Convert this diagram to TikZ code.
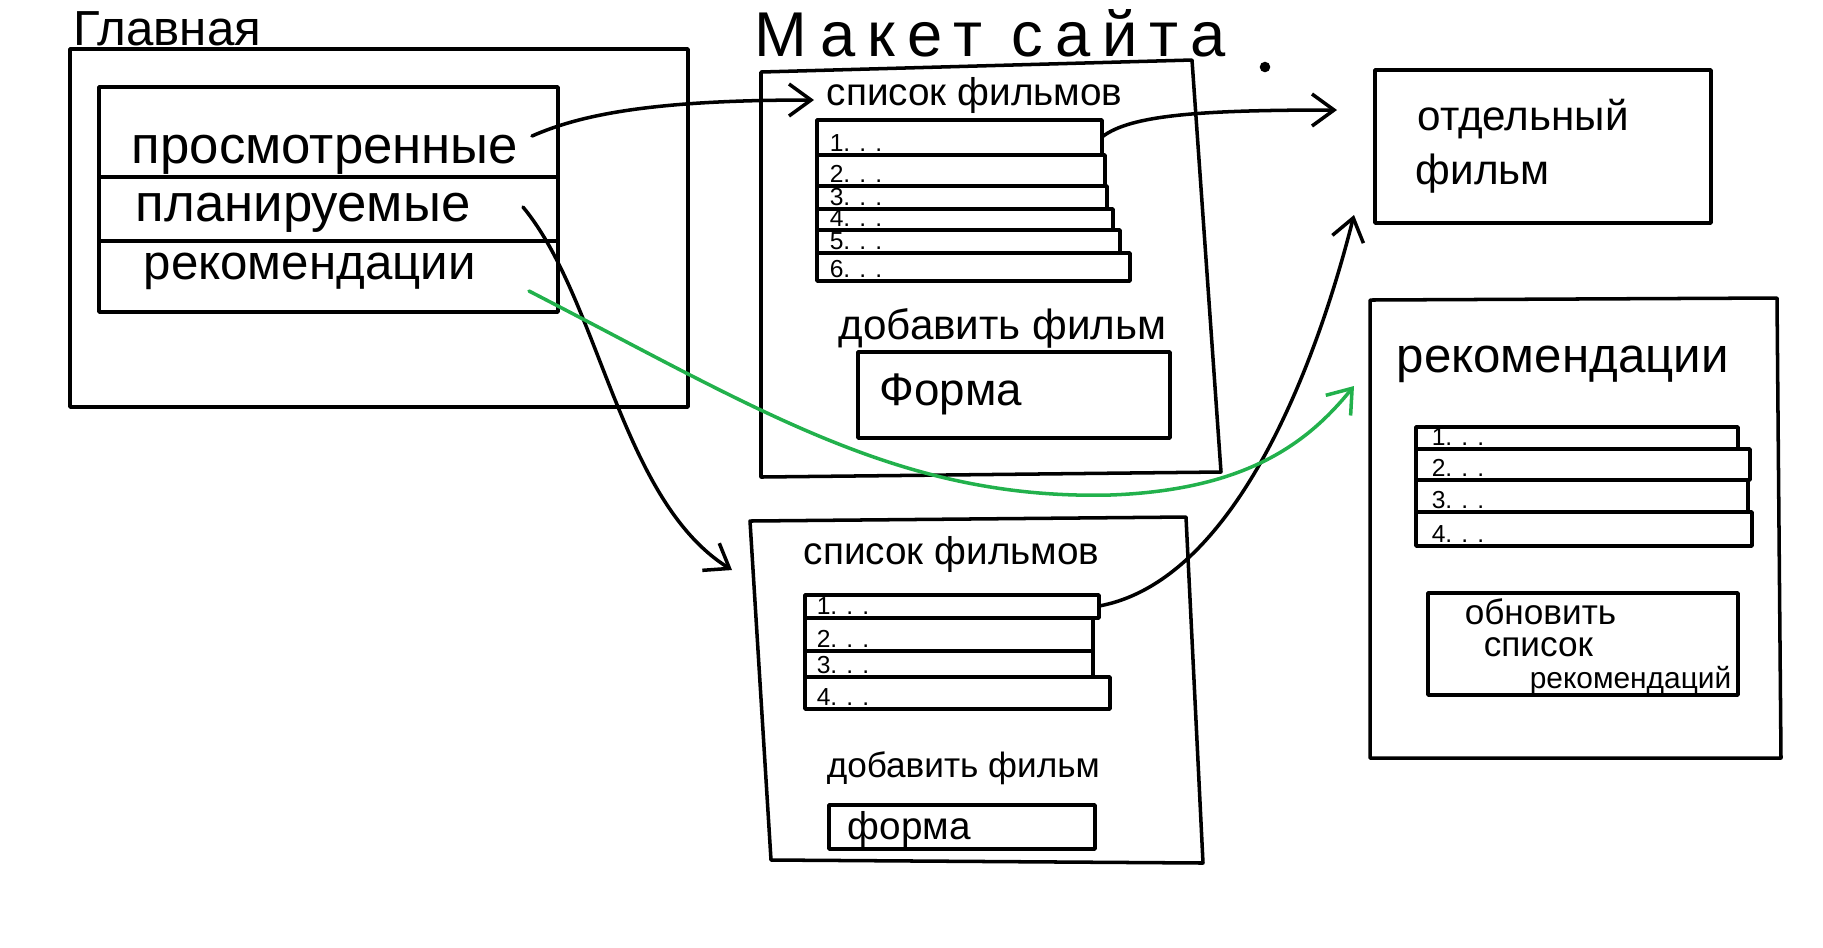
\documentclass[tikz,border=0pt]{standalone}
\usepackage{fontspec}
\setmainfont{Liberation Sans}
\usetikzlibrary{arrows.meta, positioning, calc}
\definecolor{paintgreen}{RGB}{34,177,76}
\tikzset{
  sketch/.style={line width=1pt, line cap=round, line join=round},
  link/.style={sketch, -{Straight Barb[length=2.2mm, width=3.2mm]}},
  lbl/.style={anchor=base west, inner sep=0pt},
  rowtxt/.style={anchor=base west, inner sep=0pt, font=\fontsize{7}{8}\selectfont},
}
\newcommand{\fs}[1]{\fontsize{#1}{#1}\selectfont}

\begin{document}
\begin{tikzpicture}[x=0.01cm, y=-0.01cm, sketch]
  \useasboundingbox (0,0) rectangle (1823,947);

  % Главная
  \node[lbl, font=\fs{14}] (mainT) at (72,45) {Главная};
  \draw (70,49) rectangle (688,407);
  \draw (99,87) rectangle (558,312);
  \draw (99,177) -- (558,177);
  \draw (99,241) -- (558,241);
  \node[lbl, font=\fs{15}] (seen) at (130,163) {просмотренные};
  \node[lbl, font=\fs{15}] (planned) at (134,221) {планируемые};
  \node[lbl, font=\fs{14}] (recs) at (142,279) {рекомендации};
  \coordinate (seenOut) at (532,136);
  \coordinate (plannedOut) at (523,207);
  \coordinate (recsOut) at (529,291);

  % Макет сайта
  \node[lbl, font=\fs{18}\addfontfeatures{LetterSpace=19}] (title) at (753,56) {Макет сайта};
  \fill (1265,67) circle (1.5pt);

  % список фильмов (просмотренные)
  \draw (761,72) -- (1192,60) -- (1221,472) -- (761,477) -- cycle;
  \node[lbl, font=\fs{11}] (filmsA) at (825,105) {список фильмов};
  \foreach \n/\ya/\yb/\xr in {1/120/155/1102, 2/155/186/1105, 3/186/209/1107,
                              4/209/230/1113, 5/230/253/1120, 6/253/281/1130} {
    \draw (817,\ya) rectangle (\xr,\yb);
    \node[rowtxt] (rowA\n) at (828,\yb-4) {\n. . .};
  }
  \node[lbl, font=\fs{12}] (addA) at (837,339) {добавить фильм};
  \draw (858,352) rectangle (1170,438);
  \node[lbl, font=\fs{13}] (formA) at (878,405) {Форма};
  \coordinate (filmsIn) at (814,100);
  \coordinate (rowAOut) at (1102,137);

  % список фильмов (планируемые)
  \draw (750,521) -- (1186,517) -- (1203,863) -- (771,860) -- cycle;
  \node[lbl, font=\fs{11}] (filmsB) at (802,564) {список фильмов};
  \foreach \n/\ya/\yb/\xr in {1/595/618/1099, 2/618/651/1093, 3/651/677/1093, 4/677/709/1110} {
    \draw (805,\ya) rectangle (\xr,\yb);
    \node[rowtxt] (rowB\n) at (815,\yb-4) {\n. . .};
  }
  \node[lbl, font=\fs{10}] (addB) at (825,777) {добавить фильм};
  \draw (829,805) rectangle (1095,849);
  \node[lbl, font=\fs{11}] (formB) at (846,839) {форма};
  \coordinate (pageBIn) at (732,570);
  \coordinate (rowBOut) at (1099,606);

  % отдельный фильм
  \draw (1375,70) rectangle (1711,223);
  \node[lbl, font=\fs{12}] (singleA) at (1416,130) {отдельный};
  \node[lbl, font=\fs{12}] (singleB) at (1414,184) {фильм};
  \coordinate (singleIn) at (1337,110);
  \coordinate (singleInLow) at (1354,215);

  % рекомендации
  \draw (1370,300) -- (1777,298) -- (1781,758) -- (1370,758) -- cycle;
  \node[lbl, font=\fs{14}] (recsT) at (1395,372) {рекомендации};
  \foreach \n/\ya/\yb/\xr in {1/427/449/1738, 2/449/480/1750, 3/480/512/1748, 4/512/546/1752} {
    \draw (1416,\ya) rectangle (\xr,\yb);
    \node[rowtxt] (rowC\n) at (1430,\yb-4) {\n. . .};
  }
  \draw (1428,593) rectangle (1738,695);
  \node[lbl, font=\fs{10}] (upd1) at (1463,624) {обновить};
  \node[lbl, font=\fs{10}] (upd2) at (1482,656) {список};
  \node[lbl, font=\fs{8.5}] (upd3) at (1528,688) {рекомендаций};
  \coordinate (recBoxIn) at (1354,386);

  % переходы
  \draw[link] (seenOut) .. controls (580,115) and (650,100) .. (filmsIn);
  \draw[link] (plannedOut) .. controls (600,300) and (620,500) .. (pageBIn);
  \draw[link] (rowAOut) .. controls (1130,115) and (1200,110) .. (singleIn);
  \draw[link] (rowBOut) .. controls (1240,580) and (1320,350) .. (singleInLow);
  \draw[link, paintgreen] (recsOut) .. controls (760,410) and (900,500) .. (1110,495)
    .. controls (1250,490) and (1310,440) .. (recBoxIn);
\end{tikzpicture}
\end{document}
